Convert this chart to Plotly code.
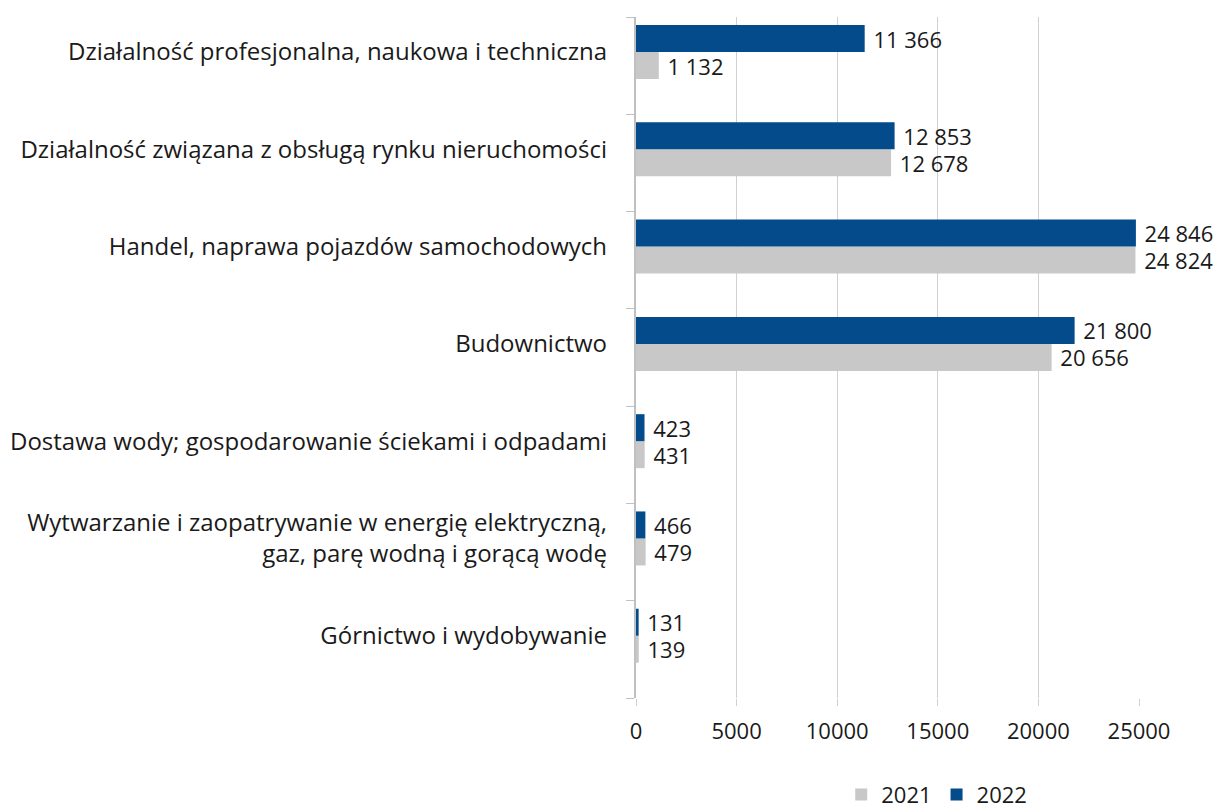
import plotly.graph_objects as go

categories = [
    "Górnictwo i wydobywanie",
    "Wytwarzanie i zaopatrywanie w energię elektryczną,<br>gaz, parę wodną i gorącą wodę",
    "Dostawa wody; gospodarowanie ściekami i odpadami",
    "Budownictwo",
    "Handel, naprawa pojazdów samochodowych",
    "Działalność związana z obsługą rynku nieruchomości",
    "Działalność profesjonalna, naukowa i techniczna",
]
values_2021 = [139, 479, 431, 20656, 24824, 12678, 1132]
values_2022 = [131, 466, 423, 21800, 24846, 12853, 11366]
x_ticks = [0, 5000, 10000, 15000, 20000, 25000]

FONT = "Open Sans"
TXT = "#1a1a1a"
GRID = "#d0d0d0"


def fmt(v):
    return "\u00a0" + f"{v:,}".replace(",", " ")


fig = go.Figure()
fig.add_trace(go.Bar(
    y=categories, x=values_2021, orientation="h", name="2021",
    marker=dict(color="#c8c8c8", line=dict(width=0)),
    text=[fmt(v) for v in values_2021], textposition="outside",
    textfont=dict(size=22, color=TXT, family=FONT),
    cliponaxis=False, constraintext="none",
))
fig.add_trace(go.Bar(
    y=categories, x=values_2022, orientation="h", name="2022",
    marker=dict(color="#034b8b", line=dict(width=0)),
    text=[fmt(v) for v in values_2022], textposition="outside",
    textfont=dict(size=22, color=TXT, family=FONT),
    cliponaxis=False, constraintext="none",
))
# invisible trace on the helper axis so it renders
fig.add_trace(go.Scatter(x=[0], y=[0], yaxis="y2", mode="markers",
                         marker=dict(opacity=0), showlegend=False, hoverinfo="skip"))

fig.update_layout(
    width=1219, height=808,
    margin=dict(l=636, r=80, t=17, b=110, autoexpand=False),
    paper_bgcolor="white", plot_bgcolor="white",
    font=dict(family=FONT, size=22, color=TXT),
    barmode="group", bargap=0.445, bargroupgap=0,
    showlegend=True,
    legend=dict(orientation="h", x=0.408, xanchor="left", y=-0.142, yanchor="middle",
                font=dict(size=22, color=TXT, family=FONT), traceorder="normal",
                itemwidth=30, tracegroupgap=0),
    xaxis=dict(range=[0, 25000], tickvals=x_ticks, ticktext=[str(v) for v in x_ticks],
               showgrid=True, gridcolor=GRID, gridwidth=1, zeroline=False,
               showline=False, ticks="outside", ticklen=7, tickcolor=GRID,
               tickfont=dict(size=22, color=TXT, family=FONT), ticklabelstandoff=7,
               automargin=False),
    yaxis=dict(type="category", categoryorder="array", categoryarray=categories,
               range=[-0.64, 6.36], showgrid=False, zeroline=False, showline=False,
               ticks="", tickfont=dict(size=24, color=TXT, family=FONT),
               ticklabelstandoff=28, automargin=False),
    yaxis2=dict(overlaying="y", side="left", range=[0, 7], tickvals=list(range(8)),
                showticklabels=False, ticks="outside", ticklen=8, tickcolor="#c0c0c0",
                showline=True, linecolor="#c0c0c0", linewidth=2, showgrid=False,
                zeroline=False, automargin=False),
)

fig.write_html("out.html", config={"displayModeBar": False},
               post_script="document.body.style.margin='0';document.body.style.overflow='hidden';")
